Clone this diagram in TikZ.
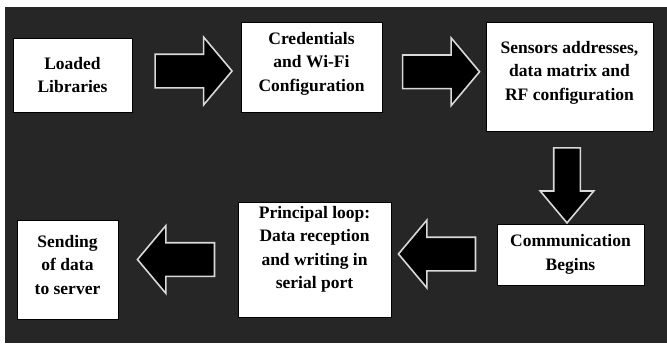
\documentclass[tikz,border=0pt]{standalone}
\usepackage{fontspec}
\setmainfont{Liberation Serif}
\usetikzlibrary{shapes.arrows,calc}
\begin{document}
\begin{tikzpicture}[x=1pt,y=-1pt,
        box/.style={draw=black,line width=0.6pt,fill=white,align=center,inner sep=0pt,
            font=\fontsize{17.5}{23.5}\selectfont\bfseries},
        blockarrow/.style={single arrow,draw=white!85!black,line width=1.6pt,fill=black,
            inner xsep=0pt,inner ysep=16pt,minimum height=77pt,minimum width=66pt,
            single arrow head extend=17pt,single arrow tip angle=100}]
        %% background
        \useasboundingbox[fill=white] (0,0) rectangle (667,343);
        \fill[black!85] (5,7) rectangle (667,343);
        %% boxes, top row
        \node[box,minimum width=119pt,minimum height=74pt] (lib) at (72.5,75) {Loaded\\Libraries};
        \node[box,minimum width=141pt,minimum height=90pt,text depth=11pt] (cred) at (311.5,67) {Credentials\\and Wi-Fi\\Configuration};
        \node[box,minimum width=167pt,minimum height=109pt,text depth=12pt] (sens) at (569.5,76.5) {Sensors addresses,\\data matrix and\\RF configuration};
        %% boxes, bottom row
        \node[box,minimum width=147pt,minimum height=61pt] (comm) at (570.5,254.5) {Communication\\Begins};
        \node[box,minimum width=153pt,minimum height=115pt,text depth=24pt] (loop) at (314.5,259.5) {Principal loop:\\Data reception\\and writing in\\serial port};
        \node[box,minimum width=101pt,minimum height=99pt,text depth=10pt] (send) at (67.5,269.5) {Sending\\of data\\to server};
        %% block arrows
        \node[blockarrow] (a1) at ($(lib.east)!0.5!(cred.west)$) {};
        \node[blockarrow] (a2) at ($(cred.east)!0.5!(sens.west)$) {};
        \node[blockarrow,shape border rotate=270,inner sep=12.5pt,minimum height=75pt,minimum width=52pt,
            single arrow head extend=13.5pt,single arrow tip angle=80] (a3) at ($(sens.south)!0.5!(comm.north)+(-3,0)$) {};
        \node[blockarrow,shape border rotate=180] (a4) at ($(comm.west)!0.5!(loop.east)+(0,-3)$) {};
        \node[blockarrow,shape border rotate=180] (a5) at ($(loop.west)!0.5!(send.east)+(5,-5)$) {};
\end{tikzpicture}
\end{document}
